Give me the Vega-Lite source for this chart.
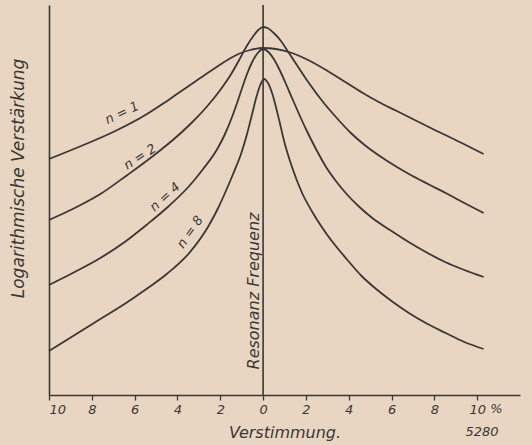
{
  "$schema": "https://vega.github.io/schema/vega-lite/v6.json",
  "width": 471,
  "height": 390,
  "autosize": {"type": "none"},
  "padding": {"left": 49, "top": 5, "right": 12, "bottom": 50},
  "background": "#e8d6c3",
  "config": {"view": {"stroke": null}, "font": "DejaVu Sans"},
  "datasets": {
    "curves": [
      {"n": "1", "x": -10, "y": 236}, {"n": "1", "x": -8.5, "y": 249}, {"n": "1", "x": -7, "y": 263}, {"n": "1", "x": -5.5, "y": 280},
      {"n": "1", "x": -4.7, "y": 291}, {"n": "1", "x": -3.92, "y": 302.5}, {"n": "1", "x": -3.2, "y": 313}, {"n": "1", "x": -2.66, "y": 321},
      {"n": "1", "x": -2.1, "y": 329}, {"n": "1", "x": -1.59, "y": 336}, {"n": "1", "x": -1.1, "y": 341.5}, {"n": "1", "x": -0.6, "y": 345},
      {"n": "1", "x": 0, "y": 347}, {"n": "1", "x": 0.6, "y": 346}, {"n": "1", "x": 1.35, "y": 342}, {"n": "1", "x": 2.1, "y": 335},
      {"n": "1", "x": 2.94, "y": 325}, {"n": "1", "x": 3.8, "y": 313.5}, {"n": "1", "x": 4.62, "y": 302.5}, {"n": "1", "x": 5.4, "y": 293},
      {"n": "1", "x": 6.2, "y": 284.5}, {"n": "1", "x": 7.74, "y": 268}, {"n": "1", "x": 9.28, "y": 252}, {"n": "1", "x": 10.3, "y": 241},

      {"n": "2", "x": -10, "y": 175}, {"n": "2", "x": -8.8, "y": 187}, {"n": "2", "x": -7.6, "y": 201}, {"n": "2", "x": -6.34, "y": 220},
      {"n": "2", "x": -5.08, "y": 240}, {"n": "2", "x": -4.0, "y": 259}, {"n": "2", "x": -3.3, "y": 273}, {"n": "2", "x": -2.6, "y": 289},
      {"n": "2", "x": -2.0, "y": 305}, {"n": "2", "x": -1.49, "y": 321}, {"n": "2", "x": -1.12, "y": 335}, {"n": "2", "x": -0.79, "y": 348},
      {"n": "2", "x": -0.42, "y": 360}, {"n": "2", "x": -0.2, "y": 365.5}, {"n": "2", "x": 0, "y": 368}, {"n": "2", "x": 0.2, "y": 367},
      {"n": "2", "x": 0.5, "y": 362}, {"n": "2", "x": 0.8, "y": 355}, {"n": "2", "x": 1.21, "y": 342}, {"n": "2", "x": 1.7, "y": 326},
      {"n": "2", "x": 2.14, "y": 312}, {"n": "2", "x": 2.8, "y": 293}, {"n": "2", "x": 3.4, "y": 278}, {"n": "2", "x": 4.1, "y": 262},
      {"n": "2", "x": 4.8, "y": 249}, {"n": "2", "x": 5.8, "y": 234}, {"n": "2", "x": 6.81, "y": 221}, {"n": "2", "x": 7.7, "y": 211},
      {"n": "2", "x": 8.53, "y": 202}, {"n": "2", "x": 9.4, "y": 192}, {"n": "2", "x": 10.3, "y": 182},

      {"n": "4", "x": -10, "y": 110}, {"n": "4", "x": -8.8, "y": 123}, {"n": "4", "x": -7.6, "y": 137}, {"n": "4", "x": -6.4, "y": 154},
      {"n": "4", "x": -5.45, "y": 170}, {"n": "4", "x": -4.4, "y": 189}, {"n": "4", "x": -3.45, "y": 209}, {"n": "4", "x": -2.8, "y": 226},
      {"n": "4", "x": -2.14, "y": 246}, {"n": "4", "x": -1.8, "y": 260}, {"n": "4", "x": -1.45, "y": 278}, {"n": "4", "x": -1.2, "y": 293},
      {"n": "4", "x": -0.98, "y": 307}, {"n": "4", "x": -0.75, "y": 321}, {"n": "4", "x": -0.51, "y": 333}, {"n": "4", "x": -0.25, "y": 342},
      {"n": "4", "x": 0, "y": 346}, {"n": "4", "x": 0.25, "y": 343}, {"n": "4", "x": 0.5, "y": 336}, {"n": "4", "x": 0.75, "y": 326},
      {"n": "4", "x": 1.05, "y": 312}, {"n": "4", "x": 1.35, "y": 297}, {"n": "4", "x": 1.7, "y": 280}, {"n": "4", "x": 2.0, "y": 266},
      {"n": "4", "x": 2.47, "y": 246}, {"n": "4", "x": 2.94, "y": 228}, {"n": "4", "x": 3.4, "y": 214}, {"n": "4", "x": 3.9, "y": 201},
      {"n": "4", "x": 4.5, "y": 188}, {"n": "4", "x": 5.1, "y": 177}, {"n": "4", "x": 6.0, "y": 164}, {"n": "4", "x": 6.8, "y": 153},
      {"n": "4", "x": 7.6, "y": 143}, {"n": "4", "x": 8.5, "y": 133}, {"n": "4", "x": 9.4, "y": 125}, {"n": "4", "x": 10.3, "y": 118},

      {"n": "8", "x": -10, "y": 44}, {"n": "8", "x": -8.8, "y": 60}, {"n": "8", "x": -7.6, "y": 76}, {"n": "8", "x": -6.4, "y": 92},
      {"n": "8", "x": -5.45, "y": 106}, {"n": "8", "x": -4.5, "y": 121}, {"n": "8", "x": -3.45, "y": 142}, {"n": "8", "x": -2.52, "y": 170},
      {"n": "8", "x": -2.1, "y": 187}, {"n": "8", "x": -1.82, "y": 200}, {"n": "8", "x": -1.4, "y": 221}, {"n": "8", "x": -1.0, "y": 243},
      {"n": "8", "x": -0.75, "y": 261}, {"n": "8", "x": -0.5, "y": 282}, {"n": "8", "x": -0.3, "y": 299}, {"n": "8", "x": -0.15, "y": 309},
      {"n": "8", "x": 0.05, "y": 316}, {"n": "8", "x": 0.2, "y": 313}, {"n": "8", "x": 0.42, "y": 302}, {"n": "8", "x": 0.6, "y": 288},
      {"n": "8", "x": 0.75, "y": 275}, {"n": "8", "x": 0.98, "y": 254}, {"n": "8", "x": 1.35, "y": 228}, {"n": "8", "x": 1.8, "y": 203},
      {"n": "8", "x": 2.3, "y": 183}, {"n": "8", "x": 3.0, "y": 160}, {"n": "8", "x": 3.9, "y": 136}, {"n": "8", "x": 4.6, "y": 119},
      {"n": "8", "x": 5.28, "y": 106}, {"n": "8", "x": 6.0, "y": 94}, {"n": "8", "x": 6.81, "y": 82}, {"n": "8", "x": 7.6, "y": 72},
      {"n": "8", "x": 8.53, "y": 62}, {"n": "8", "x": 9.4, "y": 53}, {"n": "8", "x": 10.3, "y": 46}
    ],
    "resonance": [{"x": 0, "y": 0, "y2": 390, "label": "Resonanz Frequenz", "ty": 104}],
    "curvelabels": [
      {"key": "1", "x": -6.59, "y": 282, "label": "n = 1"},
      {"key": "2", "x": -5.75, "y": 238, "label": "n = 2"},
      {"key": "4", "x": -4.58, "y": 198, "label": "n = 4"},
      {"key": "8", "x": -3.41, "y": 163, "label": "n = 8"}
    ],
    "notes": [
      {"x": 10.9, "y": -14, "label": "%"},
      {"x": 10.23, "y": -37, "label": "5280"}
    ]
  },
  "layer": [
    {
      "data": {"name": "curves"},
      "mark": {"type": "line", "interpolate": "monotone", "color": "#3b3735", "strokeWidth": 1.8},
      "encoding": {
        "x": {
          "field": "x", "type": "quantitative",
          "scale": {"domain": [-10, 12], "nice": false, "zero": false},
          "axis": {
            "values": [-10, -8, -6, -4, -2, 0, 2, 4, 6, 8, 10],
            "labelExpr": "'' + abs(datum.value)",
            "grid": false, "domainColor": "#3b3735", "domainWidth": 1.6,
            "tickColor": "#3b3735", "tickSize": 5, "tickWidth": 1.3,
            "labelFont": "DejaVu Sans", "labelFontStyle": "italic", "labelFontSize": 13, "labelColor": "#3b3735", "labelPadding": 3,
            "title": "Verstimmung.", "titleFont": "DejaVu Sans", "titleFontStyle": "italic", "titleFontWeight": "normal",
            "titleFontSize": 16, "titleColor": "#3b3735", "titleY": 29, "titleBaseline": "top"
          }
        },
        "y": {
          "field": "y", "type": "quantitative",
          "scale": {"domain": [0, 390], "nice": false},
          "axis": {
            "ticks": false, "labels": false, "grid": false, "domainColor": "#3b3735", "domainWidth": 1.6,
            "title": "Logarithmische Verstärkung", "titleFont": "DejaVu Sans", "titleFontStyle": "italic", "titleFontWeight": "normal",
            "titleFontSize": 17, "titleColor": "#3b3735", "titleX": -31, "titleY": 173, "titleBaseline": "middle"
          }
        },
        "detail": {"field": "n"}
      }
    },
    {
      "data": {"name": "resonance"},
      "mark": {"type": "rule", "color": "#3b3735", "strokeWidth": 1.6},
      "encoding": {
        "x": {"field": "x", "type": "quantitative"},
        "y": {"field": "y", "type": "quantitative"},
        "y2": {"field": "y2"}
      }
    },
    {
      "data": {"name": "resonance"},
      "mark": {"type": "text", "angle": 270, "align": "center", "baseline": "alphabetic", "dy": -4, "font": "DejaVu Sans", "fontStyle": "italic", "fontSize": 16, "color": "#3b3735"},
      "encoding": {
        "x": {"field": "x", "type": "quantitative"},
        "y": {"field": "ty", "type": "quantitative"},
        "text": {"field": "label"}
      }
    },
    {
      "data": {"name": "curvelabels"},
      "transform": [{"filter": "datum.key == '1'"}],
      "mark": {"type": "text", "angle": 335, "align": "center", "baseline": "middle", "font": "DejaVu Sans", "fontStyle": "italic", "fontSize": 13, "color": "#3b3735"},
      "encoding": {"x": {"field": "x", "type": "quantitative"}, "y": {"field": "y", "type": "quantitative"}, "text": {"field": "label"}}
    },
    {
      "data": {"name": "curvelabels"},
      "transform": [{"filter": "datum.key == '2'"}],
      "mark": {"type": "text", "angle": 327, "align": "center", "baseline": "middle", "font": "DejaVu Sans", "fontStyle": "italic", "fontSize": 13, "color": "#3b3735"},
      "encoding": {"x": {"field": "x", "type": "quantitative"}, "y": {"field": "y", "type": "quantitative"}, "text": {"field": "label"}}
    },
    {
      "data": {"name": "curvelabels"},
      "transform": [{"filter": "datum.key == '4'"}],
      "mark": {"type": "text", "angle": 318, "align": "center", "baseline": "middle", "font": "DejaVu Sans", "fontStyle": "italic", "fontSize": 13, "color": "#3b3735"},
      "encoding": {"x": {"field": "x", "type": "quantitative"}, "y": {"field": "y", "type": "quantitative"}, "text": {"field": "label"}}
    },
    {
      "data": {"name": "curvelabels"},
      "transform": [{"filter": "datum.key == '8'"}],
      "mark": {"type": "text", "angle": 305, "align": "center", "baseline": "middle", "font": "DejaVu Sans", "fontStyle": "italic", "fontSize": 13, "color": "#3b3735"},
      "encoding": {"x": {"field": "x", "type": "quantitative"}, "y": {"field": "y", "type": "quantitative"}, "text": {"field": "label"}}
    },
    {
      "data": {"name": "notes"},
      "mark": {"type": "text", "align": "center", "baseline": "middle", "font": "DejaVu Sans", "fontStyle": "italic", "fontSize": 13, "color": "#3b3735"},
      "encoding": {"x": {"field": "x", "type": "quantitative"}, "y": {"field": "y", "type": "quantitative"}, "text": {"field": "label"}}
    }
  ]
}
